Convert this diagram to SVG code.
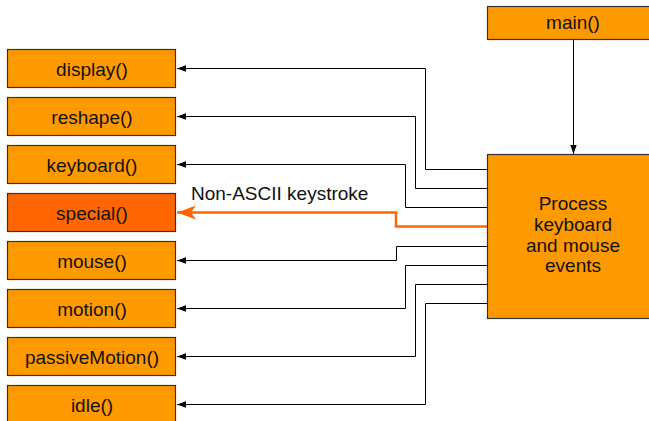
<svg xmlns="http://www.w3.org/2000/svg" width="649" height="421" viewBox="0 0 649 421">
<defs>
<marker id="ah" markerUnits="userSpaceOnUse" markerWidth="10" markerHeight="8" refX="9" refY="4" orient="auto">
<path d="M0,0.8 L9,4 L0,7.2 Z" fill="#000"/>
</marker>
<marker id="aho" markerUnits="userSpaceOnUse" markerWidth="20" markerHeight="14" refX="19" refY="7" orient="auto">
<path d="M0,0 L19,7 L0,14 L5,7 Z" fill="#FF6600"/>
</marker>
</defs>
<style>
.box{fill:#FF9900;stroke:#333;stroke-width:1.2}
.sp{fill:#FF6600;stroke:#333;stroke-width:1.2}
.t{font-family:"Liberation Sans",Arial,sans-serif;font-size:19px;fill:#111;text-anchor:middle}
.c{fill:none;stroke:#000;stroke-width:1}
.o{fill:none;stroke:#FF6600;stroke-width:2.5}
</style>
<rect width="649" height="421" fill="#fff"/>
<g id="connectors">
<path class="c" d="M573.5,39 V154" marker-end="url(#ah)"/>
<path class="c" d="M487,169.5 H425.5 V68.5 H177" marker-end="url(#ah)"/>
<path class="c" d="M487,188.5 H415.5 V116.5 H177" marker-end="url(#ah)"/>
<path class="c" d="M487,207.5 H405.5 V164.5 H177" marker-end="url(#ah)"/>
<path class="o" d="M487,226.5 H396 V212.5 H177" marker-end="url(#aho)"/>
<path class="c" d="M487,246.5 H396.5 V260.5 H177" marker-end="url(#ah)"/>
<path class="c" d="M487,265.5 H405.5 V308.5 H177" marker-end="url(#ah)"/>
<path class="c" d="M487,284.5 H415.5 V356.5 H177" marker-end="url(#ah)"/>
<path class="c" d="M487,303.5 H425.5 V404.5 H177" marker-end="url(#ah)"/>
<text class="t" x="191" y="200" style="text-anchor:start">Non-ASCII keystroke</text>
</g>
<g id="main"><rect class="box" x="487.5" y="6.5" width="170" height="33"/><text class="t" x="573" y="29">main()</text></g>
<g id="process"><rect class="box" x="487.5" y="154.5" width="170" height="164"/>
<text class="t" x="573" y="210">Process</text>
<text class="t" x="573" y="231">keyboard</text>
<text class="t" x="573" y="251.5">and mouse</text>
<text class="t" x="573" y="272">events</text></g>
<g id="display"><rect class="box" x="7.5" y="49.5" width="168" height="38"/><text class="t" x="92" y="75.5">display()</text></g>
<g id="reshape"><rect class="box" x="7.5" y="97.5" width="168" height="38"/><text class="t" x="92" y="123.5">reshape()</text></g>
<g id="keyboard"><rect class="box" x="7.5" y="145.5" width="168" height="38"/><text class="t" x="92" y="171.5">keyboard()</text></g>
<g id="special"><rect class="sp" x="7.5" y="193.5" width="168" height="38"/><text class="t" x="92" y="219.5">special()</text></g>
<g id="mouse"><rect class="box" x="7.5" y="241.5" width="168" height="38"/><text class="t" x="92" y="267.5">mouse()</text></g>
<g id="motion"><rect class="box" x="7.5" y="289.5" width="168" height="38"/><text class="t" x="92" y="315.5">motion()</text></g>
<g id="passiveMotion"><rect class="box" x="7.5" y="337.5" width="168" height="38"/><text class="t" x="92" y="363.5">passiveMotion()</text></g>
<g id="idle"><rect class="box" x="7.5" y="385.5" width="168" height="38"/><text class="t" x="92" y="411.5">idle()</text></g>
</svg>
